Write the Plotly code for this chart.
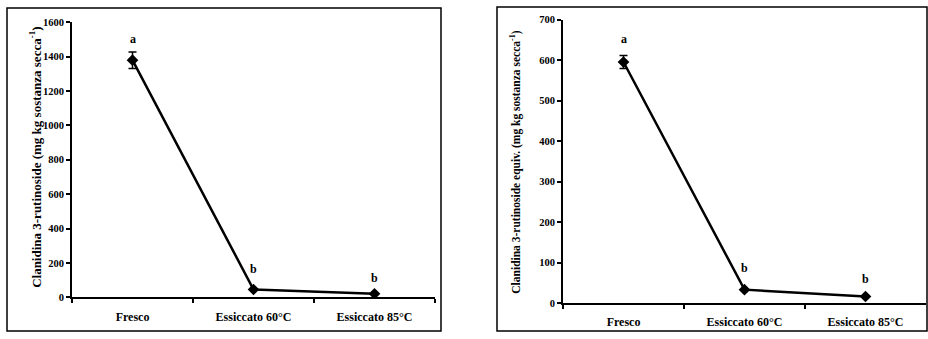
import plotly.graph_objects as go

categories = ["Fresco", "Essiccato 60°C", "Essiccato 85°C"]
left_values = [1380, 45, 20]
left_err = [48, 0, 0]
left_letters = ["a", "b", "b"]
left_letter_y = [1505, 165, 110]
right_values = [595, 33, 16]
right_err = [16, 0, 0]
right_letters = ["a", "b", "b"]
right_letter_y = [652, 86, 60]

left_title = "Clanidina 3-rutinoside (mg kg sostanza secca<sup>-1</sup>)"
right_title = "Clanidina 3-rutinoside equiv. (mg kg sostanza secca<sup>-1</sup>)"

W, H = 928, 339
FONT = "Liberation Serif"

fig = go.Figure()

def add_panel(xa, ya, vals, errs):
    fig.add_trace(go.Scatter(
        x=categories, y=vals, xaxis=xa, yaxis=ya,
        mode="lines+markers",
        line=dict(color="black", width=2.5),
        marker=dict(symbol="diamond", size=9, color="black"),
        error_y=dict(type="data", array=errs, color="black", thickness=1.5, width=4),
        showlegend=False, hoverinfo="skip"))

add_panel("x", "y", left_values, left_err)
add_panel("x2", "y2", right_values, right_err)

def px_x(p):
    return p / W

def px_y(p):
    return 1 - p / H

axis_common_x = dict(
    type="category", range=[-0.5, 2.5], tickson="boundaries",
    ticks="outside", ticklen=4, tickwidth=1.5, tickcolor="black",
    showline=True, linecolor="black", linewidth=2, showgrid=False,
    zeroline=False, fixedrange=True, ticklabelstandoff=7,
    tickfont=dict(family=FONT, size=12, color="black", weight="bold"),
)
axis_common_y = dict(
    ticks="outside", ticklen=4, tickwidth=1.5, tickcolor="black",
    showline=True, linecolor="black", linewidth=2, showgrid=False,
    zeroline=False, fixedrange=True,
    tickfont=dict(family=FONT, size=10.5, color="black", weight="bold"),
)

fig.update_layout(
    width=W, height=H,
    margin=dict(l=0, r=0, t=0, b=0),
    paper_bgcolor="white", plot_bgcolor="white",
    xaxis=dict(axis_common_x, domain=[px_x(72), px_x(435)], anchor="y"),
    yaxis=dict(axis_common_y, domain=[px_y(302), px_y(18)], range=[0, 1600], dtick=200, anchor="x"),
    xaxis2=dict(axis_common_x, domain=[px_x(563), px_x(926)], anchor="y2"),
    yaxis2=dict(axis_common_y, domain=[px_y(308), px_y(15)], range=[0, 700], dtick=100, anchor="x2"),
)

shapes = []
for (x0, y0, x1, y1) in [(7, 3, 441, 337), (497, 2, 927, 337)]:
    shapes.append(dict(type="rect", xref="paper", yref="paper",
                       x0=px_x(x0), x1=px_x(x1), y0=px_y(y1), y1=px_y(y0),
                       line=dict(color="black", width=1.5), fillcolor="rgba(0,0,0,0)"))
fig.update_layout(shapes=shapes)

annotations = []
for cat, ly, lt in zip(categories, left_letter_y, left_letters):
    annotations.append(dict(x=cat, y=ly, xref="x", yref="y", text=lt, showarrow=False,
                            font=dict(family=FONT, size=12, color="black", weight="bold")))
for cat, ly, lt in zip(categories, right_letter_y, right_letters):
    annotations.append(dict(x=cat, y=ly, xref="x2", yref="y2", text=lt, showarrow=False,
                            font=dict(family=FONT, size=12, color="black", weight="bold")))
annotations.append(dict(x=px_x(25), y=px_y(158), xref="paper", yref="paper", text=left_title,
                        textangle=-90, showarrow=False,
                        font=dict(family=FONT, size=13, color="black", weight="bold")))
annotations.append(dict(x=px_x(516), y=px_y(163), xref="paper", yref="paper", text=right_title,
                        textangle=-90, showarrow=False,
                        font=dict(family=FONT, size=11.5, color="black", weight="bold")))
fig.update_layout(annotations=annotations)

fig.write_html("out.html")
